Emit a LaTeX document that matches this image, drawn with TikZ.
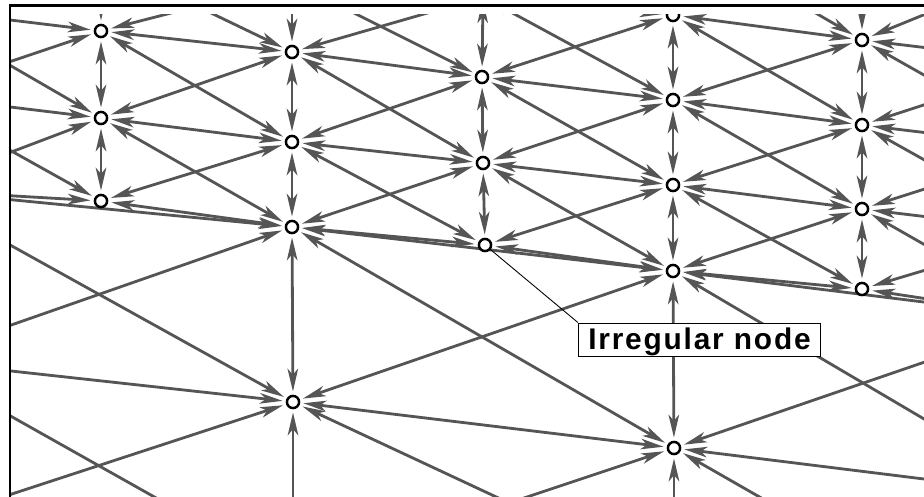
\documentclass[tikz,border=0pt]{standalone}
\usepackage{fontspec}
\setmainfont{Liberation Sans}
\newfontfamily\tagfont{Liberation Sans}[LetterSpace=6]
\usepackage{tikz}
\usetikzlibrary{arrows.meta,backgrounds}
\definecolor{meshGray}{RGB}{85,85,85}

\begin{document}
\begin{tikzpicture}[x=0.02cm,y=-0.02cm,
  mnode/.style={circle,draw=black,fill=white,line width=1.4pt,inner sep=0pt,minimum size=6.9pt},
  link/.style={meshGray,line width=1.6pt,
    {Stealth[length=13pt,width=6pt,inset=3.5pt]}-{Stealth[length=13pt,width=6pt,inset=3.5pt]},
    shorten <=1.8pt,shorten >=1.8pt},
  tag/.style={draw=black,fill=white,line width=0.6pt,inner sep=0pt,
    minimum width=137.8pt,minimum height=19.3pt,text height=15.3pt,text depth=4pt,
    font=\tagfont\bfseries\fontsize{17}{20}\selectfont}]
\useasboundingbox (0,0) rectangle (924,497);

% frame
\draw[line width=1.2pt] (10,520) -- (10,5.5) -- (940,5.5);

\begin{scope}
\clip (10,14) rectangle (924,497);
% mesh nodes
\node[mnode] (n12) at (101,31) {};
\node[mnode] (n13) at (101,118) {};
\node[mnode] (n22) at (292,52) {};
\node[mnode] (n23) at (292,142) {};
\node[mnode] (n32) at (482,77) {};
\node[mnode] (n33) at (483,163) {};
\node[mnode] (n41) at (673,15) {};
\node[mnode] (n42) at (673,100) {};
\node[mnode] (n43) at (673,185) {};
\node[mnode] (n51) at (862,40) {};
\node[mnode] (n52) at (862,125) {};
\node[mnode] (n53) at (862,209) {};
\node[mnode] (h1) at (101,201) {};
\node[mnode] (c2) at (292,227) {};
\node[mnode] (h3) at (485,245) {};
\node[mnode] (c4) at (673,271) {};
\node[mnode] (h5) at (862,289) {};
\node[mnode] (d2) at (293,402) {};
\node[mnode] (d4) at (674,448) {};
% neighbours outside the frame
\coordinate (n11) at (101,-40);
\coordinate (n21) at (292,-18);
\coordinate (n31) at (483,-3);
\coordinate (n61) at (1053,63);
\coordinate (n40) at (673,-70);
\coordinate (n50) at (862,-45);
\coordinate (n60) at (1053,-38);
\coordinate (n02) at (-89,8);
\coordinate (n62) at (1053,148);
\coordinate (n03) at (-89,95);
\coordinate (n63) at (1053,232);
\coordinate (c0) at (-89,190);
\coordinate (c6) at (1053,318);
\coordinate (d0) at (-89,360);
\coordinate (d6) at (1053,495);
\coordinate (e0) at (-89,527);
\coordinate (e2) at (293,575);
\coordinate (e4) at (674,580);
\coordinate (e6) at (1053,665);

\begin{pgfonlayer}{background}
\begin{scope}
\clip (10,14) rectangle (924,497);
% fine mesh
\foreach \a/\b in {n11/n12,n12/n13,n13/h1,n21/n22,n22/n23,n23/c2,n31/n32,n32/n33,n33/h3,
  n40/n41,n41/n42,n42/n43,n43/c4,n50/n51,n51/n52,n52/n53,n53/h5}
  \draw[link] (\a) -- (\b);
\foreach \a/\b in {n31/n41,n41/n51,n51/n61,n02/n12,n12/n22,n22/n32,n32/n42,n42/n52,n52/n62,
  n03/n13,n13/n23,n23/n33,n33/n43,n43/n53,n53/n63,c0/h1,h1/c2,c2/h3,h3/c4,c4/h5,h5/c6}
  \draw[link] (\a) -- (\b);
\foreach \a/\b in {n40/n51,n11/n22,n21/n32,n31/n42,n41/n52,n51/n62,
  n02/n13,n12/n23,n22/n33,n32/n43,n42/n53,n52/n63,n03/h1,n13/c2,n23/h3,n33/c4,n43/h5,n53/c6}
  \draw[link] (\a) -- (\b);
\foreach \a/\b in {n41/n50,n51/n60,n12/n21,n22/n31,n32/n41,n42/n51,n52/n61,
  n03/n12,n13/n22,n23/n32,n33/n42,n43/n52,n53/n62,c0/n13,h1/n23,c2/n33,h3/n43,c4/n53,h5/n63}
  \draw[link] (\a) -- (\b);
% coarse mesh
\foreach \a/\b in {c0/c2,c2/c4,c4/c6,d0/d2,d2/d4,d4/d6,c2/d2,c4/d4,d2/e2,d4/e4,
  c0/d2,c2/d4,c4/d6,d0/e2,d2/e4,d4/e6,d0/c2,d2/c4,d4/c6,e0/d2,e2/d4,e4/d6}
  \draw[link] (\a) -- (\b);
\end{scope}
\end{pgfonlayer}
\end{scope}

% annotation
\node[tag] (lbl) at (699.5,340) {Irregular node};
\draw[line width=0.5pt] (h3) -- (lbl.north west);
\end{tikzpicture}
\end{document}
